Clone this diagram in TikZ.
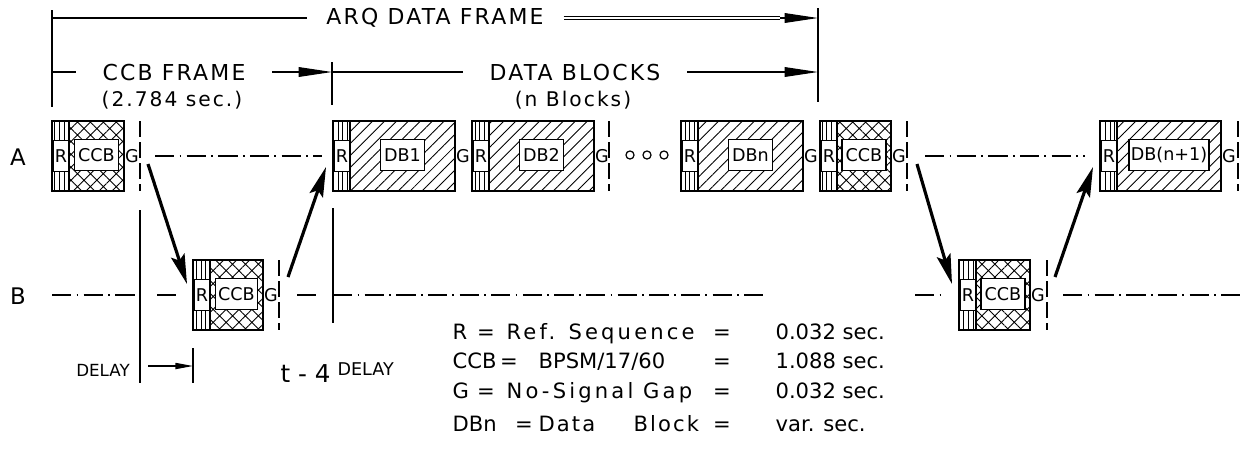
\documentclass[tikz,border=0pt]{standalone}
\usepackage{fontspec}
\setmainfont{DejaVu Sans}
\usepackage{tikz}
\usetikzlibrary{arrows.meta, patterns.meta}

\begin{document}
\begin{tikzpicture}[x=0.02cm, y=-0.02cm, line width=0.7pt,
    dbfill/.style={pattern={Lines[angle=45,distance=4.8pt,line width=0.5pt]}},
    ccbfill/.style={pattern={Hatch[angle=45,distance=5.2pt,line width=0.5pt]}},
    rfill/.style={pattern={Lines[angle=90,distance=2.6pt,line width=0.5pt]}},
    boxtxt/.style={font=\fontsize{10}{11}\selectfont},
    inbox/.style={boxtxt, draw, line width=0.6pt, fill=white, inner sep=0pt, minimum height=0.62cm},
    gbar/.style={dash pattern=on 9pt off 3pt},
    track/.style={line width=0.6pt, dash pattern=on 11pt off 3pt on 1pt off 3pt},
    hop/.style={line width=1.8pt, -{Stealth[length=17pt,width=8pt,inset=3pt]}},
    dim/.style={-{Triangle[length=19pt,width=5.5pt]}},
    hdg/.style={font=\fontsize{12.5}{14}\selectfont\addfontfeature{LetterSpace=10}, inner xsep=15pt, inner ysep=2pt},
    sub/.style={font=\fontsize{11.5}{13}\selectfont\addfontfeature{LetterSpace=10}},
    leg/.style={font=\fontsize{12}{14}\selectfont, anchor=base west, inner sep=0pt},
    wide/.style={font=\fontsize{12}{14}\selectfont\addfontfeature{LetterSpace=15}},
    spaced/.style={font=\fontsize{12}{14}\selectfont\addfontfeature{LetterSpace=10}},
    eq/.style={font=\fontsize{12}{14}\selectfont, anchor=base, inner sep=0pt}]
  \useasboundingbox (0,0) rectangle (1242,458);

  % frame dimensions
  \coordinate (arqL) at (52,18);
  \coordinate (arqM) at (780,18);
  \coordinate (arqR) at (818,18);
  \coordinate (fL) at (52,72);
  \coordinate (fM) at (332,72);
  \coordinate (fR) at (818,72);
  \draw (52,10) -- (52,107);
  \draw (332,62) -- (332,105);
  \draw (818,8) -- (818,102);
  \node[hdg, inner xsep=11pt] (arq) at (435,18) {ARQ DATA FRAME};
  \draw (arqL) -- (arq.west);
  \draw[double, line width=0.6pt, double distance=1.6pt] (arq.east) -- (arqM);
  \draw[dim] (arqM) -- (arqR);
  \node[hdg] (ccbf) at (174,72) {CCB FRAME};
  \node[sub] (ccbt) at (172,100) {(2.784 sec.)};
  \draw (fL) -- (ccbf.west);
  \draw[dim] (ccbf.east) -- (fM);
  \node[hdg] (dbk) at (575,72) {DATA BLOCKS};
  \node[sub] (dbkn) at (573,100) {(n Blocks)};
  \draw (fM) -- (dbk.west);
  \draw[dim] (dbk.east) -- (fR);

  % rows
  \node[font=\fontsize{13}{15}\selectfont] (rowA) at (18,157) {A};
  \node[font=\fontsize{13}{15}\selectfont] (rowB) at (18,296) {B};
  \draw[track] (155,156) -- (322,156);
  \draw[track] (925,156) -- (1085,156);
  \draw[track] (52,295) -- (135,295);
  \draw[track] (157,295) -- (176,295);
  \draw[track] (297,295) -- (316,295);
  \draw[track] (333,295) -- (767,295);
  \draw[track] (915,295) -- (941,295);
  \draw[track] (1063,295) -- (1242,295);
  \draw[line width=1.5pt] (140,210) -- (140,383);
  \draw (333,208) -- (333,323);

  % blocks
  \foreach \x/\y/\w/\iw/\pat/\lab/\nm in {52/121/72/44/ccbfill/CCB/a1, 333/121/122/44/dbfill/DB1/a2,
      472/121/122/44/dbfill/DB2/a3, 681/121/122/44/dbfill/DBn/a4, 820/121/71/44/ccbfill/CCB/a5,
      1100/121/121/80/dbfill/DB(n+1)/a6, 193/260/70/42/ccbfill/CCB/b1, 959/260/71/44/ccbfill/CCB/b2}{
    \begin{scope}[shift={(\x,\y)}]
      \fill[\pat] (17,0) rectangle (\w,70);
      \fill[rfill] (0,0) rectangle (17,70);
      \draw[line width=0.9pt] (0,0) rectangle (\w,70) (17,0) -- (17,70);
      \node[inbox, minimum width=16*0.02cm] (\nm-r) at (9,35) {R};
      \node[inbox, minimum width=\iw*0.02cm] (\nm-b) at ({(17+\w)/2},34) {\lab};
      \node[boxtxt, inner sep=0pt] (\nm-g) at (\w+8,35) {G};
    \end{scope}
  }
  \foreach \x/\y in {140/121, 609/121, 907/121, 1238/121, 279/260, 1047/260}
    \draw[gbar] (\x,\y) -- (\x,\y+70);
  \foreach \cx in {630,647,664}
    \draw (\cx,155) circle[radius=2.3pt];

  % hops between stations
  \coordinate (d1) at (148,164);
  \coordinate (d1e) at (187,284);
  \coordinate (u1) at (288,277);
  \coordinate (u1e) at (326,167);
  \coordinate (d2) at (917,164);
  \coordinate (d2e) at (952,284);
  \coordinate (u2) at (1055,277);
  \coordinate (u2e) at (1093,167);
  \draw[hop] (d1) -- (d1e);
  \draw[hop] (u1) -- (u1e);
  \draw[hop] (d2) -- (d2e);
  \draw[hop] (u2) -- (u2e);

  % delay
  \node[font=\fontsize{9.5}{11}\selectfont] (dly) at (103,370) {DELAY};
  \coordinate (dlyA) at (148,366);
  \coordinate (dlyB) at (193,366);
  \draw[-{Triangle[length=10pt,width=3.5pt]}] (dlyA) -- (dlyB);
  \draw (193,348) -- (193,383);
  \node[font=\fontsize{14}{16}\selectfont, anchor=base west, inner sep=0pt] (tf) at (280,382) {t - 4};
  \node[font=\fontsize{10}{12}\selectfont, anchor=base west, inner sep=0pt] (tfd) at (337,375) {DELAY};

  % legend
  \node[leg] (l1a) at (452,339) {R};
  \node[eq] (l1b) at (486,339) {=};
  \node[leg, wide] (l1c) at (506,339) {Ref. Sequence};
  \node[eq] (l1d) at (722,339) {=};
  \node[leg] (l1e) at (775,339) {0.032 sec.};
  \node[leg] (l2a) at (452,368) {CCB};
  \node[eq] (l2b) at (509,368) {=};
  \node[leg] (l2c) at (538,368) {BPSM/17/60};
  \node[eq] (l2d) at (722,368) {=};
  \node[leg] (l2e) at (775,368) {1.088 sec.};
  \node[leg] (l3a) at (452,398) {G};
  \node[eq] (l3b) at (486,398) {=};
  \node[leg, wide] (l3c) at (506,398) {No-Signal Gap};
  \node[eq] (l3d) at (722,398) {=};
  \node[leg] (l3e) at (775,398) {0.032 sec.};
  \node[leg] (l4a) at (452,431) {DBn};
  \node[eq] (l4b) at (524,431) {=};
  \node[leg, spaced] (l4c) at (538,431) {Data};
  \node[leg, spaced] (l4d) at (633,431) {Block};
  \node[eq] (l4e) at (722,431) {=};
  \node[leg] (l4f) at (775,431) {var. sec.};
\end{tikzpicture}
\end{document}
